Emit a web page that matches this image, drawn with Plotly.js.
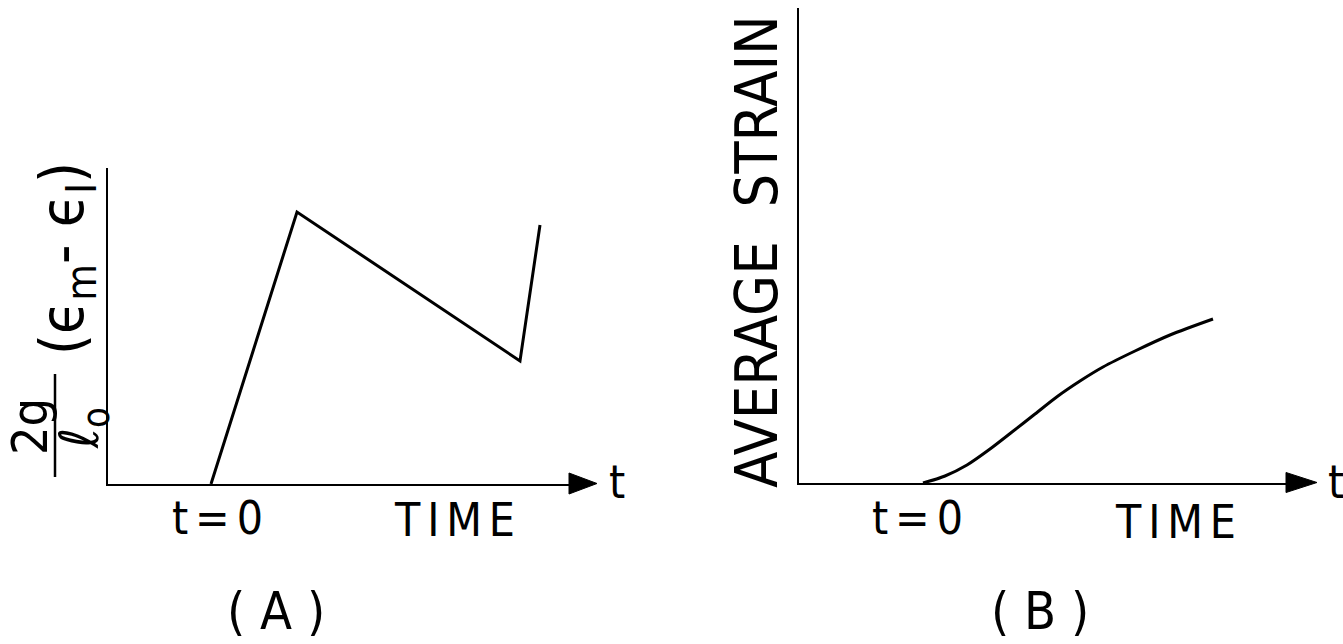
<!DOCTYPE html>
<html>
<head>
<meta charset="utf-8">
<script src="https://cdn.plot.ly/plotly-3.0.1.min.js"></script>
<style>html,body{margin:0;padding:0;background:#fff;}#chart{width:1343px;height:644px;}</style>
</head>
<body>
<div id="chart"></div>
<script>
// Panel A: normalized strain difference vs time (arbitrary units)
const timeA = [0, 0.86, 3.09, 3.29];
const strainDiffA = [0, 2.72, 1.23, 2.59];
// Panel B: average strain vs time (arbitrary units)
const timeB = [0, 0.22, 0.44, 0.67, 0.89, 1.12, 1.35, 1.57, 1.80, 2.12, 2.47, 2.90];
const avgStrainB = [0, 0.07, 0.18, 0.34, 0.51, 0.69, 0.87, 1.02, 1.16, 1.32, 1.48, 1.64];

const W = 1343, H = 644;
const px = x => x / W;
const py = y => 1 - y / H;
const FONT = "DejaVu Sans Condensed, Liberation Sans Narrow, DejaVu Sans, sans-serif";
const SP = '\u2006';

const traces = [
  {x: timeA, y: strainDiffA, xaxis: 'x', yaxis: 'y', mode: 'lines',
   line: {color: '#000', width: 3}, hoverinfo: 'skip'},
  {x: timeB, y: avgStrainB, xaxis: 'x2', yaxis: 'y2', mode: 'lines',
   line: {color: '#000', width: 3, shape: 'spline', smoothing: 0.8}, hoverinfo: 'skip'}
];

const axBase = {showgrid: false, zeroline: false, showticklabels: false, ticks: '',
  showline: true, linecolor: '#000', linewidth: 2, fixedrange: true};

function ann(text, x, y, size, angle) {
  return {text: text, x: px(x), y: py(y), xref: 'paper', yref: 'paper',
    showarrow: false, xanchor: 'center', yanchor: 'middle',
    textangle: angle || 0, font: {family: FONT, size: size, color: '#000'}};
}

function tri(x0, x1, yc, h) {
  return {type: 'path', xref: 'paper', yref: 'paper',
    path: 'M ' + px(x0) + ' ' + py(yc - h/2) + ' L ' + px(x1) + ' ' + py(yc) +
          ' L ' + px(x0) + ' ' + py(yc + h/2) + ' Z',
    fillcolor: '#000', line: {color: '#000', width: 1}};
}

const layout = {
  width: W, height: H,
  margin: {l: 0, r: 0, t: 0, b: 0},
  paper_bgcolor: '#fff', plot_bgcolor: 'rgba(0,0,0,0)',
  showlegend: false,
  xaxis: Object.assign({}, axBase, {domain: [px(108), px(572)], range: [-1.03, 3.61]}),
  yaxis: Object.assign({}, axBase, {domain: [py(484), py(168)], range: [0, 3.16]}),
  xaxis2: Object.assign({}, axBase, {domain: [px(799), px(1290)], range: [-1.24, 3.67], anchor: 'y2'}),
  yaxis2: Object.assign({}, axBase, {domain: [py(483), py(8)], range: [0, 4.75], anchor: 'x2'}),
  shapes: [
    tri(569, 597, 483.5, 21),
    tri(1286, 1317, 482.5, 20),
    {type: 'line', xref: 'paper', yref: 'paper', x0: px(55), x1: px(55), y0: py(374), y1: py(477),
     line: {color: '#000', width: 2.5}}
  ],
  annotations: [
    ann('t' + SP + '=' + SP + '0', 217, 518, 46),
    ann('T' + SP + 'I' + SP + 'M' + SP + 'E', 455, 520, 46),
    ann('t' + SP + '=' + SP + '0', 917, 518, 46),
    ann('T' + SP + 'I' + SP + 'M' + SP + 'E', 1175, 522, 46),
    ann('t', 617, 482, 46),
    ann('t', 1336, 482, 46),
    ann('( A )', 276, 611, 52),
    ann('( B )', 1040, 611, 52),
    ann('AVERAGE  STRAIN', 757, 252, 59, -90),
    ann('2g', 30, 427, 50, -90),
    ann('ℓ<sub>o</sub>', 83, 428, 54, -90),
    ann('(ϵ<sub>m</sub>- ϵ<sub>I</sub>)', 66, 259, 60, -90)
  ]
};

Plotly.newPlot('chart', traces, layout, {staticPlot: true, displayModeBar: false});
</script>
</body>
</html>
